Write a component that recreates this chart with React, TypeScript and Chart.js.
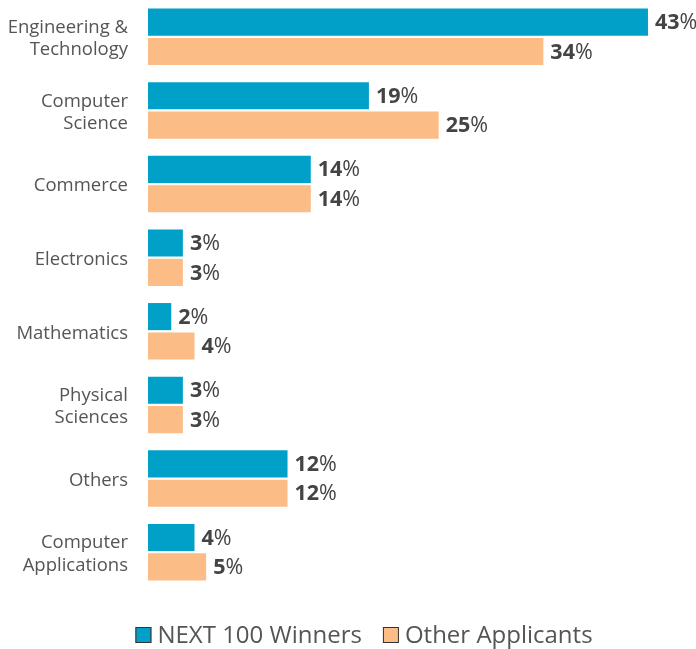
import React, { useEffect, useRef } from "react";
import { Chart, registerables } from "chart.js";

Chart.register(...registerables);

const categories: string[][] = [
  ["Engineering &", "Technology"],
  ["Computer", "Science"],
  ["Commerce"],
  ["Electronics"],
  ["Mathematics"],
  ["Physical", "Sciences"],
  ["Others"],
  ["Computer", "Applications"],
];
const winners = [43, 19, 14, 3, 2, 3, 12, 4];
const others = [34, 25, 14, 3, 4, 3, 12, 5];
const seriesNames = ["NEXT 100 Winners", "Other Applicants"];
const colors = ["#00A0C8", "#FBBC86"];

const FONT = "'Open Sans', sans-serif";

const valueLabels = {
  id: "valueLabels",
  afterDatasetsDraw(chart: any) {
    const ctx = chart.ctx;
    ctx.save();
    ctx.textBaseline = "middle";
    ctx.fillStyle = "#444";
    chart.data.datasets.forEach((ds: any, di: number) => {
      const meta = chart.getDatasetMeta(di);
      meta.data.forEach((bar: any, i: number) => {
        const v = ds.data[i];
        const x = bar.x + 7;
        const y = bar.y + 1;
        ctx.font = `bold 21.5px ${FONT}`;
        const s = String(v);
        ctx.fillText(s, x, y);
        const w = ctx.measureText(s).width;
        ctx.font = `normal 21.5px ${FONT}`;
        ctx.fillText("%", x + w, y);
      });
    });
    ctx.restore();
  },
};

const customLegend = {
  id: "customLegend",
  afterDraw(chart: any) {
    const ctx = chart.ctx;
    ctx.save();
    ctx.font = `normal 24px ${FONT}`;
    ctx.textBaseline = "middle";
    const y = 635;
    const box = 16;
    const gapBoxText = 6;
    const gapItems = 21;
    const widths = seriesNames.map((n) => ctx.measureText(n).width);
    const total =
      widths.reduce((a, b) => a + b, 0) +
      seriesNames.length * (box + gapBoxText) +
      gapItems * (seriesNames.length - 1);
    let x = 364 - total / 2;
    seriesNames.forEach((name, i) => {
      ctx.fillStyle = colors[i];
      ctx.fillRect(x, y - box / 2, box, box);
      ctx.strokeStyle = "#333";
      ctx.lineWidth = 1;
      ctx.strokeRect(x + 0.5, y - box / 2 + 0.5, box - 1, box - 1);
      x += box + gapBoxText;
      ctx.fillStyle = "#555";
      ctx.fillText(name, x, y + 1);
      x += widths[i] + gapItems;
    });
    ctx.restore();
  },
};

export default function App() {
  const ref = useRef<HTMLCanvasElement>(null);
  useEffect(() => {
    document.body.style.margin = "0";
    const chart = new Chart(ref.current!, {
      type: "bar",
      data: {
        labels: categories,
        datasets: [
          { label: seriesNames[0], data: winners, backgroundColor: colors[0] },
          { label: seriesNames[1], data: others, backgroundColor: colors[1] },
        ],
      },
      options: {
        indexAxis: "y",
        animation: false,
        responsive: false,
        categoryPercentage: 0.8,
        barPercentage: 0.92,
        layout: { padding: { left: 0, top: 0, right: 0, bottom: 60 } },
        scales: {
          x: {
            display: false,
            min: 0,
            max: 47.13,
          },
          y: {
            grid: { display: false, drawTicks: false },
            border: { display: false },
            ticks: {
              color: "#555",
              font: { family: FONT, size: 18.5, lineHeight: 1.2 },
              padding: 20,
              labelOffset: 2,
              autoSkip: false,
            },
            afterFit(scale: any) {
              scale.width = 148;
              scale.paddingTop = 0;
              scale.paddingBottom = 0;
            },
          },
        },
        plugins: {
          tooltip: { enabled: false },
          legend: { display: false },
        },
      },
      plugins: [valueLabels, customLegend],
    });
    return () => chart.destroy();
  }, []);
  return (
    <div style={{ width: 696, height: 649 }}>
      <canvas ref={ref} width={696} height={649} />
    </div>
  );
}
